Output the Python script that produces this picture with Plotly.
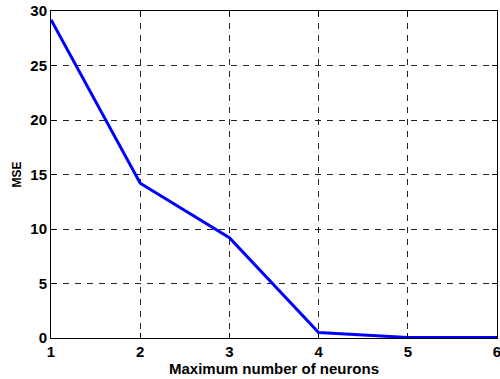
import plotly.graph_objects as go

neurons = [1, 2, 3, 4, 5, 6]
mse = [29.2, 14.2, 9.2, 0.5, 0.05, 0.05]
x_ticks = [1, 2, 3, 4, 5, 6]
y_ticks = [0, 5, 10, 15, 20, 25, 30]

FONT = "Liberation Sans, Arial, sans-serif"

fig = go.Figure()
fig.add_trace(go.Scatter(x=neurons, y=mse, mode="lines",
                         line=dict(color="#0000FF", width=3)))

axis_common = dict(
    showline=True, linecolor="black", linewidth=1, mirror="ticks",
    ticks="inside", ticklen=5, tickcolor="black",
    showgrid=True, gridcolor="#222222", gridwidth=1, griddash="6px,6px",
    zeroline=False, ticklabeloverflow="allow", automargin=False,
    tickfont=dict(family=FONT, size=15, color="black", weight=700),
)

fig.update_layout(
    width=500, height=379,
    margin=dict(l=51, r=3, t=11, b=41),
    paper_bgcolor="white", plot_bgcolor="white",
    showlegend=False,
    font=dict(family=FONT, color="black"),
    xaxis=dict(range=[1, 6], tickvals=x_ticks, **axis_common,
               title=dict(text="Maximum number of neurons",
                          font=dict(family=FONT, size=15, weight=700), standoff=0)),
    yaxis=dict(range=[0, 30], tickvals=y_ticks, **axis_common,
               title=dict(text="MSE", font=dict(family=FONT, size=12, weight=700), standoff=6)),
)
fig.write_html("out.html", config={"displayModeBar": False},
               post_script="document.body.style.margin='0';")
